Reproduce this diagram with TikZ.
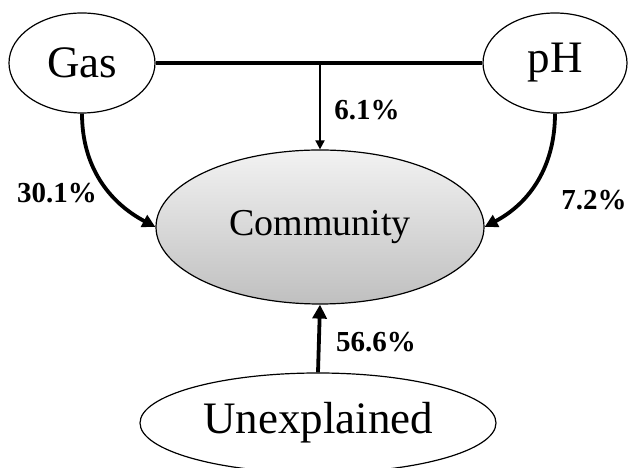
\documentclass[tikz,border=0pt]{standalone}
\usepackage{fontspec}
\setmainfont{Liberation Serif}
\usetikzlibrary{shapes.geometric,arrows.meta}

\begin{document}
\begin{tikzpicture}[x=1pt,y=1pt]
  \useasboundingbox (0,0) rectangle (629,468);

      \begin{scope}[every node/.style={ellipse,draw,line width=1.2pt,inner sep=0pt,font=\fontsize{45}{50}\selectfont}]
        \node[minimum width=146pt,minimum height=100pt] (gas)   at (82,405)  {Gas};
        \node[minimum width=144pt,minimum height=100pt] (ph)    at (555,405) {pH};
        \node[minimum width=328pt,minimum height=154pt,top color=gray!10,bottom color=gray!50,
              font=\fontsize{38}{44}\selectfont]           (comm)  at (320,241) {Community};
        \node[minimum width=356pt,minimum height=100pt] (unexp) at (318,45)  {Unexplained};
      \end{scope}

      \coordinate (join) at (comm.north |- gas.east);

      \begin{scope}[every node/.style={font=\bfseries\fontsize{29}{32}\selectfont}]
        \node (gaslab)   at (57,275)  {30.1\%};
        \node (phlab)    at (594,268) {7.2\%};
        \node (joinlab)  at (367,358) {6.1\%};
        \node (unexplab) at (376,126) {56.6\%};
      \end{scope}

      \begin{scope}[line width=3.8pt]
        \draw (gas.east) -- (ph.west);
        \draw[-{Triangle[length=13pt,width=13pt]}] (gas.south) to[out=-90,in=152] (comm.west);
        \draw[-{Triangle[length=13pt,width=13pt]}] (ph.south) to[out=-90,in=28] (comm.east);
        \draw[-{Triangle[length=14pt,width=14pt]}] (unexp.north) -- (comm.south);
      \end{scope}

      \draw[line width=1.8pt,-{Triangle[length=9pt,width=9pt]}] (join) -- (comm.north);

    \end{tikzpicture}
\end{document}
